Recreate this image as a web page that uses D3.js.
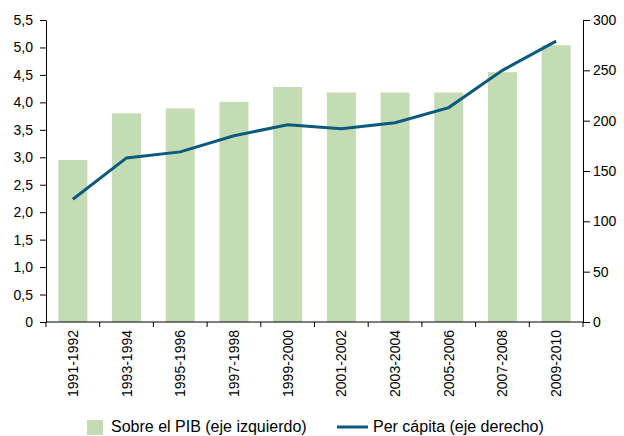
<!DOCTYPE html>
<html><head><meta charset="utf-8">
<script src="https://cdn.jsdelivr.net/npm/d3@7/dist/d3.min.js"></script>
<style>body{margin:0;background:#fff}text{font-family:"Liberation Sans",Arial,sans-serif;fill:#000}</style>
</head><body><svg id="c" width="624" height="436"></svg>
<script>
const categories = ["1991-1992","1993-1994","1995-1996","1997-1998","1999-2000","2001-2002","2003-2004","2005-2006","2007-2008","2009-2010"];
const pibValues = [2.95, 3.80, 3.89, 4.01, 4.28, 4.18, 4.18, 4.18, 4.55, 5.04];
const perCapita = [122, 163, 169, 185, 196, 192, 198, 213, 250, 279];
const leftTicks = [0,0.5,1,1.5,2,2.5,3,3.5,4,4.5,5,5.5];
const rightTicks = [0,50,100,150,200,250,300];
const legendLabels = ["Sobre el PIB (eje izquierdo)", "Per cápita (eje derecho)"];

const svg = d3.select("#c");
const L = 46, R = 583, T = 20, B = 322;
const x = d3.scaleBand().domain(categories).range([L, R]).paddingInner(0.46).paddingOuter(0.23);
const xb = d3.scaleBand().domain(categories).range([L, R]);
const yL = d3.scaleLinear().domain([0, 5.5]).range([B, T]);
const yR = d3.scaleLinear().domain([0, 300]).range([B, T]);
const fmt = d => d === 0 ? "0" : d3.format(".1f")(d).replace(".", ",");

svg.append("g").selectAll("rect").data(pibValues).join("rect")
  .attr("x", (d,i) => x(categories[i])).attr("width", x.bandwidth())
  .attr("y", d => yL(d)).attr("height", d => B - yL(d)).attr("fill", "#c4dcb3");

const line = d3.line().x((d,i) => xb(categories[i]) + xb.bandwidth()/2).y(d => yR(d));
svg.append("path").datum(perCapita).attr("d", line).attr("fill","none")
  .attr("stroke","#0b5a7e").attr("stroke-width",3);

const gl = svg.append("g").attr("transform", `translate(${L},0)`)
  .call(d3.axisLeft(yL).tickValues(leftTicks).tickFormat(fmt).tickSize(6).tickPadding(7).tickSizeOuter(0));
const gr = svg.append("g").attr("transform", `translate(${R},0)`)
  .call(d3.axisRight(yR).tickValues(rightTicks).tickSize(7).tickPadding(3).tickSizeOuter(0));
[gl, gr].forEach(g => { g.selectAll("text").attr("font-size", 14).style("font-family", '"Liberation Sans",Arial,sans-serif'); g.selectAll("path,line").attr("stroke","#000"); });

// x axis: ticks at band boundaries
const gx = svg.append("g");
gx.append("line").attr("x1", L).attr("x2", R).attr("y1", B).attr("y2", B).attr("stroke", "#000");
const bounds = categories.map(c => xb(c)).concat([R]);
gx.selectAll("line.tk").data(bounds).join("line").attr("class","tk")
  .attr("x1", d => d).attr("x2", d => d).attr("y1", B).attr("y2", B + 5).attr("stroke", "#000");
gx.selectAll("text").data(categories).join("text")
  .attr("transform", d => `translate(${xb(d) + xb.bandwidth()/2 + 5},${B + 8}) rotate(-90)`)
  .attr("text-anchor", "end").attr("font-size", 14).text(d => d);

// legend
const lg = svg.append("g");
lg.append("rect").attr("x", 87).attr("y", 420).attr("width", 16).attr("height", 15).attr("fill", "#c4dcb3");
lg.append("text").attr("x", 111).attr("y", 432).attr("font-size", 16).text(legendLabels[0]);
lg.append("line").attr("x1", 337).attr("x2", 368).attr("y1", 427).attr("y2", 427).attr("stroke", "#0b5a7e").attr("stroke-width", 3);
lg.append("text").attr("x", 373).attr("y", 432).attr("font-size", 16).text(legendLabels[1]);
</script></body></html>
